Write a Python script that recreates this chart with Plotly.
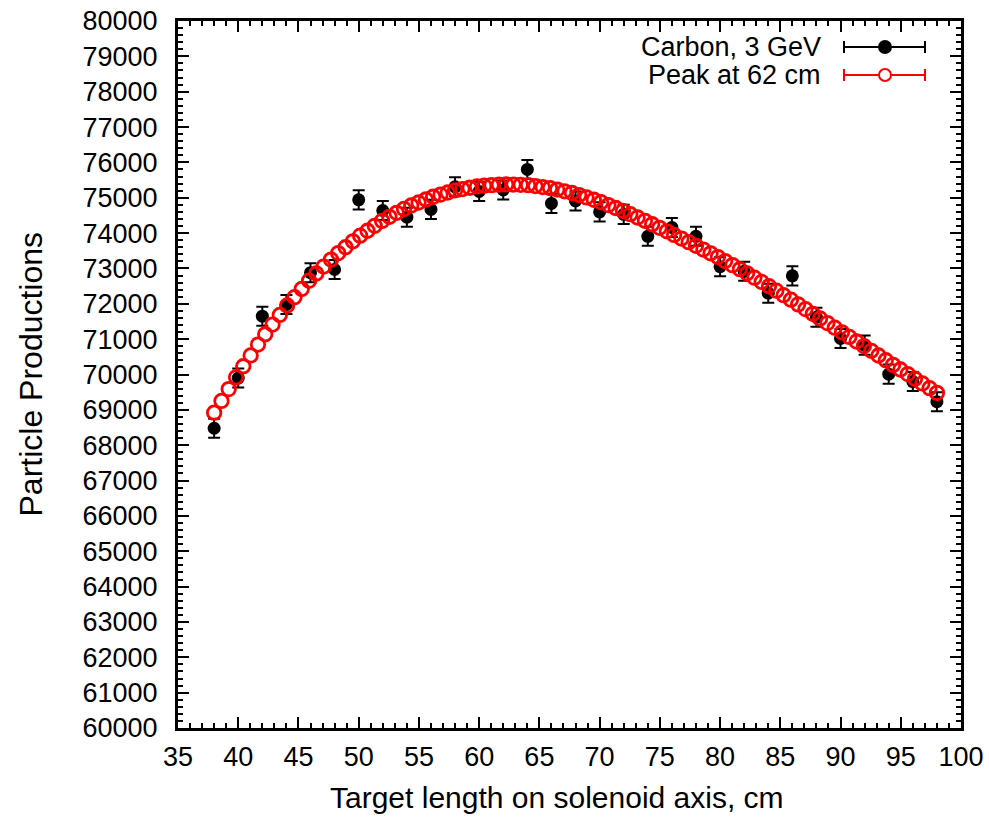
import plotly.graph_objects as go

# Measured target lengths (cm) and particle production counts
target_len = [38, 40, 42, 44, 46, 48, 50, 52, 54, 56, 58, 60, 62, 64, 66, 68,
              70, 72, 74, 76, 78, 80, 82, 84, 86, 88, 90, 92, 94, 96, 98]
production = [68480, 69900, 71650, 71980, 72880, 72970, 74940, 74640, 74450,
              74670, 75310, 75180, 75220, 75800, 74840, 74910, 74600, 74530,
              73910, 74160, 73910, 73050, 72920, 72300, 72790, 71620, 71020,
              70830, 70010, 69800, 69230]
production_err = [270] * len(production)

# Smooth fitted curve sampled along the target length (peak near 62 cm)
fit_len = [38.00, 38.61, 39.21, 39.82, 40.42, 41.03, 41.64, 42.24, 42.85, 43.45,
           44.06, 44.67, 45.27, 45.88, 46.48, 47.09, 47.70, 48.30, 48.91, 49.52,
           50.12, 50.73, 51.33, 51.94, 52.55, 53.15, 53.76, 54.36, 54.97, 55.58,
           56.18, 56.79, 57.39, 58.00, 58.61, 59.21, 59.82, 60.42, 61.03, 61.64,
           62.24, 62.85, 63.45, 64.06, 64.67, 65.27, 65.88, 66.48, 67.09, 67.70,
           68.30, 68.91, 69.52, 70.12, 70.73, 71.33, 71.94, 72.55, 73.15, 73.76,
           74.36, 74.97, 75.58, 76.18, 76.79, 77.39, 78.00, 78.61, 79.21, 79.82,
           80.42, 81.03, 81.64, 82.24, 82.85, 83.45, 84.06, 84.67, 85.27, 85.88,
           86.48, 87.09, 87.70, 88.30, 88.91, 89.52, 90.12, 90.73, 91.33, 91.94,
           92.55, 93.15, 93.76, 94.36, 94.97, 95.58, 96.18, 96.79, 97.39, 98.00]
fit_val = [68920, 69253, 69587, 69920, 70234, 70540, 70846, 71139, 71412, 71684,
           71953, 72186, 72420, 72653, 72857, 73054, 73251, 73434, 73600, 73767,
           73928, 74067, 74207, 74346, 74461, 74573, 74685, 74781, 74866, 74951,
           75028, 75089, 75149, 75210, 75246, 75283, 75319, 75341, 75356, 75371,
           75378, 75372, 75365, 75357, 75330, 75303, 75275, 75231, 75183, 75134,
           75077, 75010, 74943, 74874, 74792, 74710, 74628, 74535, 74441, 74348,
           74250, 74150, 74050, 73949, 73846, 73743, 73640, 73534, 73428, 73322,
           73209, 73094, 72979, 72862, 72740, 72619, 72497, 72370, 72243, 72116,
           71984, 71850, 71717, 71585, 71454, 71324, 71194, 71063, 70933, 70803,
           70670, 70537, 70403, 70272, 70141, 70011, 69880, 69747, 69613, 69480]

x_ticks = [35, 40, 45, 50, 55, 60, 65, 70, 75, 80, 85, 90, 95, 100]
y_ticks = [60000, 61000, 62000, 63000, 64000, 65000, 66000, 67000, 68000,
           69000, 70000, 71000, 72000, 73000, 74000, 75000, 76000, 77000,
           78000, 79000, 80000]
y_tick_text = [str(v) for v in y_ticks]

legend_labels = ["Carbon, 3 GeV", "Peak at 62 cm"]
x_title = "Target length on solenoid axis, cm"
y_title = "Particle Productions"

BLACK = "#000000"
RED = "#ff0000"
FONT = "Liberation Sans, Arial, Helvetica, sans-serif"

W, H = 989, 820
ML, MR, MT, MB = 178, 28, 21, 92
PW, PH = W - ML - MR, H - MT - MB


def px_x(px):
    return (px - ML) / PW


def px_y(py):
    return (H - MB - py) / PH


fig = go.Figure()

fig.add_trace(go.Scatter(
    x=target_len, y=production, mode="markers", name=legend_labels[0],
    marker=dict(symbol="circle", size=13, color=BLACK),
    error_y=dict(type="data", array=production_err, color=BLACK,
                 thickness=2, width=6),
    showlegend=False,
))

fig.add_trace(go.Scatter(
    x=fit_len, y=fit_val, mode="markers", name=legend_labels[1],
    marker=dict(symbol="circle-open", size=13.5, color=RED,
                line=dict(width=2.8, color=RED)),
    showlegend=False,
))

# Hand-drawn key in the top-right corner
shapes = []
annotations = []
rows = [(47, BLACK, True), (75, RED, False)]
for (py, col, filled), label in zip(rows, legend_labels):
    y = px_y(py)
    annotations.append(dict(
        x=px_x(823), y=y, xref="paper", yref="paper", text=label,
        showarrow=False, xanchor="right", yanchor="middle",
        font=dict(family=FONT, size=27, color=BLACK),
    ))
    shapes.append(dict(type="line", xref="paper", yref="paper",
                       x0=px_x(844), x1=px_x(925), y0=y, y1=y,
                       line=dict(color=col, width=2)))
    for cx in (844, 925):
        shapes.append(dict(type="line", xref="paper", yref="paper",
                           x0=px_x(cx), x1=px_x(cx),
                           y0=px_y(py - 6), y1=px_y(py + 6),
                           line=dict(color=col, width=2)))
    shapes.append(dict(
        type="circle", xref="paper", yref="paper",
        xsizemode="pixel", ysizemode="pixel",
        xanchor=px_x(885), yanchor=y, x0=-6, x1=6, y0=-6, y1=6,
        fillcolor=col if filled else "white",
        line=dict(color=col, width=2),
    ))

# Axis titles
annotations.append(dict(
    x=px_x(557), y=px_y(797), xref="paper", yref="paper", text=x_title,
    showarrow=False, xanchor="center", yanchor="middle",
    font=dict(family=FONT, size=30, color=BLACK),
))
annotations.append(dict(
    x=px_x(30), y=0.5, xref="paper", yref="paper", text=y_title,
    showarrow=False, xanchor="center", yanchor="middle", textangle=-90,
    font=dict(family=FONT, size=32, color=BLACK),
))

axis_common = dict(
    showline=True, linewidth=3, linecolor=BLACK, mirror="allticks",
    ticks="inside", ticklen=11, tickwidth=2, tickcolor=BLACK,
    showgrid=False, zeroline=False, automargin=False,
    tickfont=dict(family=FONT, size=27, color=BLACK),
)

fig.update_layout(
    width=W, height=H,
    margin=dict(l=ML, r=MR, t=MT, b=MB),
    paper_bgcolor="white", plot_bgcolor="white",
    font=dict(family=FONT, color=BLACK),
    shapes=shapes, annotations=annotations,
    xaxis=dict(
        range=[35, 100], tickvals=x_ticks, ticklabelstandoff=3,
        minor=dict(dtick=1, ticks="inside", ticklen=5, tickwidth=2,
                   tickcolor=BLACK, showgrid=False),
        **axis_common,
    ),
    yaxis=dict(
        range=[60000, 80000], tickvals=y_ticks, ticktext=y_tick_text,
        ticklabelstandoff=12,
        minor=dict(dtick=200, ticks="inside", ticklen=5, tickwidth=2,
                   tickcolor=BLACK, showgrid=False),
        **axis_common,
    ),
)

fig.write_html("out.html")
